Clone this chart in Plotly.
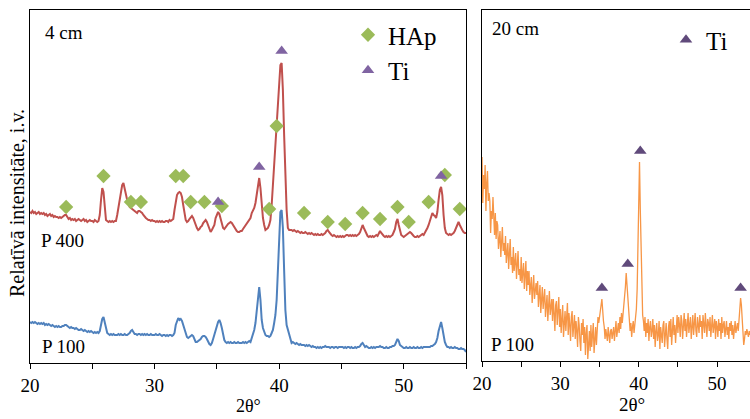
import numpy as np
import plotly.graph_objects as go

# ---------------- data ----------------
# 2-theta scan grid: start and step (degrees)
scan_start = 20.0
scan_step = 0.1

# Left panel (4 cm): P 400 (red, offset) and P 100 (blue), relative intensity
p400_4cm = [
    151,150,152,150,151,149,150,151,149,150,
    149,150,148,149,147,148,149,147,148,146,
    147,146,146,145,146,145,146,147,148,148,
    146,144,145,143,144,143,144,142,143,144,
    143,142,143,144,142,143,141,142,143,142,
    142,141,143,142,141,142,148,163,175,171,
    153,143,142,141,142,141,142,141,142,142,
    148,155,163,172,178,180,173,168,163,160,
    156,155,154,153,152,151,150,152,152,151,
    150,148,146,145,144,143,143,142,143,142,
    142,141,142,141,142,141,142,141,141,142,
    142,141,143,142,143,144,153,160,168,170,
    171,170,166,158,148,143,141,142,144,146,
    147,145,141,138,135,133,134,136,137,140,
    142,143,141,137,134,131,133,136,138,145,
    149,151,149,145,140,135,134,136,137,139,
    140,141,140,138,135,133,132,131,131,132,
    132,134,136,138,140,141,143,145,150,152,
    155,160,168,180,185,175,155,145,138,133,
    134,135,138,143,158,178,193,213,236,258,
    283,298,300,273,228,188,153,135,133,133,
    133,132,133,132,131,132,131,130,131,130,
    130,131,130,129,130,129,130,129,128,129,
    128,129,128,128,129,128,129,130,132,133,
    131,129,128,127,128,127,126,127,126,127,
    126,127,126,127,128,128,127,128,127,128,
    127,128,127,128,129,131,135,138,135,132,
    129,127,126,127,126,127,126,127,128,127,
    129,132,130,128,127,126,127,126,127,126,
    127,128,131,134,141,144,138,132,128,127,
    126,127,128,129,130,131,130,128,127,126,
    126,127,126,127,128,129,128,130,133,135,
    138,143,147,150,148,147,145,151,163,173,
    176,168,148,135,130,129,128,129,128,129,
    130,132,135,138,141,138,135,133,131,130,
    130,
]

p100_4cm = [
    41,40,41,40,41,40,39,40,39,40,
    39,40,38,39,38,39,38,37,38,37,
    36,37,36,37,36,36,37,37,38,38,
    37,36,35,36,35,35,34,35,34,33,
    33,34,33,32,33,32,31,32,31,32,
    31,30,31,30,31,30,32,38,44,46,
    41,33,30,29,28,29,28,29,28,28,
    28,29,28,29,28,28,29,28,28,29,
    30,32,33,31,29,29,28,29,29,28,
    29,28,29,28,29,28,28,29,28,28,
    28,29,28,28,29,28,27,28,28,27,
    28,27,28,28,27,28,30,38,43,45,
    43,44,42,38,33,28,26,25,26,27,
    28,27,24,21,21,22,23,24,26,27,
    27,26,24,21,19,18,20,24,28,33,
    38,41,43,40,35,28,23,21,20,21,
    20,21,20,20,21,20,20,21,20,20,
    20,21,20,21,20,21,22,21,25,28,
    33,40,53,70,76,63,43,35,30,28,
    27,27,26,27,30,33,40,48,63,93,
    128,151,153,135,93,53,38,33,27,23,
    20,21,20,19,20,19,18,19,18,18,
    18,17,18,17,18,17,16,17,16,16,
    15,16,15,16,15,16,16,17,16,16,
    16,15,16,16,15,16,16,15,16,16,
    16,16,15,16,15,16,16,15,16,15,
    15,16,15,16,16,17,19,20,18,16,
    17,16,15,15,16,15,16,15,16,16,
    16,17,16,16,15,15,16,15,15,16,
    16,17,17,18,22,24,22,18,17,16,
    15,15,16,15,15,16,15,15,16,15,
    15,16,15,15,16,15,16,16,16,16,
    16,16,17,17,18,19,21,25,32,38,
    41,35,27,21,18,16,16,15,16,15,
    15,16,15,15,14,14,15,14,14,13,
    11,
]

# Right panel (20 cm): P 100 (orange), relative intensity
p100_20cm = [
    204,158,186,172,196,150,178,190,160,168,
    160,128,150,142,164,134,126,148,122,140,
    136,112,124,130,104,120,134,110,118,106,
    125,98,110,118,92,108,122,96,104,88,
    114,90,100,108,82,96,110,86,92,80,
    104,78,88,98,72,84,100,70,90,76,
    90,66,74,84,58,72,86,62,70,78,
    66,80,54,62,76,48,68,74,52,60,
    72,44,56,66,40,58,70,46,52,62,
    40,62,48,30,56,60,36,50,64,34,
    52,28,44,56,24,40,50,30,46,58,
    26,48,36,20,44,50,24,38,46,22,
    40,30,14,44,36,20,10,38,26,42,
    18,34,6,28,36,2,22,30,10,36,
    14,30,38,8,26,34,16,32,44,38,
    46,50,56,62,48,40,34,22,32,26,
    20,34,26,18,30,32,22,28,34,20,
    30,40,24,34,38,28,44,32,48,38,
    46,52,60,74,88,76,56,44,36,30,
    38,24,34,40,28,36,44,52,72,120,
    160,199,152,108,66,46,40,30,44,24,
    38,28,42,20,34,40,24,30,42,22,
    36,14,30,38,20,26,40,12,34,28,
    18,36,40,14,28,38,22,12,34,40,
    24,42,16,30,44,26,36,18,40,46,
    28,44,36,24,46,40,22,34,48,30,
    42,24,38,48,28,36,44,22,40,46,
    26,40,48,30,24,44,38,28,46,34,
    40,22,46,36,28,48,32,24,42,38,
    30,44,24,38,46,28,36,42,22,40,
    34,24,42,30,38,22,44,28,36,40,
    24,36,40,26,34,22,38,30,40,26,
    36,22,30,40,28,34,38,30,46,58,
    63,56,40,24,16,22,30,26,32,28,
    24,30,26,32,28,
]

# Phase markers, left panel (2theta, height)
hap_2theta = [22.9, 25.9, 28.1, 28.9, 31.7, 32.3, 32.9, 34.0, 35.4, 39.2, 39.8,
              42.0, 43.9, 45.3, 46.7, 48.1, 49.5, 50.4, 52.0, 53.3, 54.5]
hap_height = [156, 187, 161, 161, 187, 187, 161, 161, 157, 154, 237,
              150, 141, 139, 150, 144, 156, 141, 161, 188, 154]
ti_2theta_4cm = [35.1, 38.4, 40.2, 53.0]
ti_height_4cm = [161, 196, 312, 187]

# Phase markers, right panel
ti_2theta_20cm = [35.3, 38.6, 40.2, 53.0]
ti_height_20cm = [73, 97, 210, 73]

x_tick_vals = [20, 25, 30, 35, 40, 45, 50, 55]
x_tick_text = ["20", "", "30", "", "40", "", "50", ""]


def grid(values):
    return np.round(scan_start + scan_step * np.arange(len(values)), 2)


# ---------------- figure ----------------
W, H = 750, 419
FONT = "Liberation Serif"

RED = "#C0504D"
BLUE = "#4F81BD"
GREEN = "#9BBB59"
PURPLE = "#8064A2"
PURPLE_DARK = "#604A7B"
ORANGE = "#F79646"

fig = go.Figure()

fig.add_trace(go.Scatter(x=grid(p400_4cm), y=p400_4cm, mode="lines",
                         line=dict(color=RED, width=2), showlegend=False,
                         xaxis="x", yaxis="y"))
fig.add_trace(go.Scatter(x=grid(p100_4cm), y=p100_4cm, mode="lines",
                         line=dict(color=BLUE, width=2), showlegend=False,
                         xaxis="x", yaxis="y"))
fig.add_trace(go.Scatter(x=hap_2theta, y=hap_height, mode="markers", name="HAp",
                         marker=dict(symbol="diamond", size=11, color=GREEN),
                         xaxis="x", yaxis="y", legend="legend"))
fig.add_trace(go.Scatter(x=ti_2theta_4cm, y=ti_height_4cm, mode="markers", name="Ti",
                         marker=dict(symbol="triangle-up", size=11, color=PURPLE),
                         xaxis="x", yaxis="y", legend="legend"))

fig.add_trace(go.Scatter(x=grid(p100_20cm), y=p100_20cm, mode="lines",
                         line=dict(color=ORANGE, width=1.3), showlegend=False,
                         xaxis="x2", yaxis="y2"))
fig.add_trace(go.Scatter(x=ti_2theta_20cm, y=ti_height_20cm, mode="markers", name="Ti",
                         marker=dict(symbol="triangle-up", size=11, color=PURPLE_DARK),
                         xaxis="x2", yaxis="y2", legend="legend2"))


def px_x(p):
    return p / W


def px_y(p):
    return 1 - p / H


axis_common = dict(showline=True, linecolor="black", linewidth=1.3,
                   showgrid=False, zeroline=False,
                   tickfont=dict(family=FONT, size=19, color="black"))

fig.update_layout(
    width=W, height=H,
    margin=dict(l=0, r=0, t=0, b=0, autoexpand=False),
    paper_bgcolor="white", plot_bgcolor="white",
    font=dict(family=FONT, color="black"),
    xaxis=dict(domain=[px_x(30), px_x(466)], range=[20, 55],
               tickvals=x_tick_vals, ticktext=x_tick_text,
               ticks="outside", ticklen=5, tickcolor="black", tickwidth=1.3,
               mirror=True, anchor="y", automargin=False, **axis_common),
    yaxis=dict(domain=[px_y(363), px_y(10)], range=[0, 353],
               showticklabels=False, ticks="", mirror=True, anchor="x",
               automargin=False, **axis_common),
    xaxis2=dict(domain=[px_x(482), 1.0], range=[20, 54.2],
                tickvals=x_tick_vals, ticktext=x_tick_text,
                ticks="outside", ticklen=5, tickcolor="black", tickwidth=1.3,
                mirror=True, anchor="y2", automargin=False, **axis_common),
    yaxis2=dict(domain=[px_y(361), px_y(10)], range=[0, 351],
                showticklabels=False, ticks="", mirror=False, anchor="x2",
                automargin=False, **axis_common),
    legend=dict(x=px_x(348), y=px_y(12), xanchor="left", yanchor="top",
                bgcolor="rgba(0,0,0,0)", font=dict(family=FONT, size=25),
                tracegroupgap=0, itemsizing="trace"),
    legend2=dict(x=px_x(666), y=px_y(17), xanchor="left", yanchor="top",
                 bgcolor="rgba(0,0,0,0)", font=dict(family=FONT, size=25),
                 itemsizing="trace"),
)

annots = [
    dict(text="4 cm", x=px_x(43), y=px_y(32), xanchor="left", size=19),
    dict(text="P 400", x=px_x(39), y=px_y(240), xanchor="left", size=19),
    dict(text="P 100", x=px_x(40), y=px_y(346), xanchor="left", size=19),
    dict(text="20 cm", x=px_x(490), y=px_y(29), xanchor="left", size=19),
    dict(text="P 100", x=px_x(489), y=px_y(344), xanchor="left", size=19),
    dict(text="2θ°", x=px_x(248), y=px_y(406), xanchor="center", size=18),
    dict(text="2θ°", x=px_x(632), y=px_y(404), xanchor="center", size=19),
]
for a in annots:
    fig.add_annotation(text=a["text"], x=a["x"], y=a["y"], xref="paper", yref="paper",
                       xanchor=a["xanchor"], yanchor="middle", showarrow=False,
                       font=dict(family=FONT, size=a["size"], color="black"))

fig.add_annotation(text="Relatīvā intensitāte, i.v.", x=px_x(17), y=px_y(203),
                   xref="paper", yref="paper", xanchor="center", yanchor="middle",
                   textangle=-90, showarrow=False,
                   font=dict(family=FONT, size=20, color="black"))

fig.write_html("out.html", config={"displayModeBar": False},
               post_script="document.body.style.margin='0px';")
